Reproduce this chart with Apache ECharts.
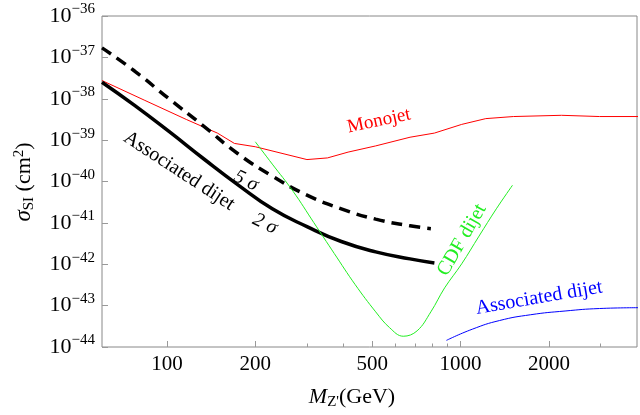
<!DOCTYPE html>
<html><head><meta charset="utf-8">
<script src="https://cdn.jsdelivr.net/npm/echarts@6/dist/echarts.min.js"></script>
<style>html,body{margin:0;padding:0;background:#fff}#c{width:640px;height:415px}</style>
</head><body><div id="c"></div>
<script>
// log10(M / GeV) and log10(sigma / cm^2)
const monoLogM = [1.779,1.925,2.066,2.172,2.230,2.301,2.477,2.547,2.617,2.711,2.828,2.911,3.004,3.086,3.180,3.344,3.473,3.608];
const monoLogS = [-37.56,-38.04,-38.50,-38.83,-39.08,-39.16,-39.47,-39.43,-39.29,-39.14,-38.93,-38.83,-38.62,-38.48,-38.43,-38.40,-38.43,-38.43];
const s5LogM = [1.779,1.890,2.007,2.125,2.242,2.359,2.477,2.594,2.711,2.828,2.899];
const s5LogS = [-36.77,-37.33,-38.00,-38.66,-39.33,-39.87,-40.33,-40.66,-40.91,-41.07,-41.14];
const s2LogM = [1.779,1.890,2.007,2.125,2.242,2.359,2.477,2.594,2.711,2.828,2.911];
const s2LogS = [-37.60,-38.16,-38.79,-39.45,-40.08,-40.66,-41.09,-41.45,-41.70,-41.87,-41.97];
const cdfLogM = [2.301,2.359,2.430,2.500,2.570,2.641,2.711,2.758,2.805,2.852,2.899,2.946,3.004,3.063,3.122,3.177];
const cdfLogS = [-39.04,-39.58,-40.24,-40.99,-41.74,-42.49,-43.15,-43.53,-43.74,-43.61,-43.15,-42.57,-41.99,-41.32,-40.66,-40.09];
const assocLogM = [2.952,3.040,3.133,3.239,3.356,3.473,3.608];
const assocLogS = [-43.84,-43.57,-43.36,-43.22,-43.13,-43.07,-43.05];
const xMajor = [100,200,500,1000,2000];
const xMinor = [300,400,600,700,800,900,3000];
const yTicks = [-44,-43,-42,-41,-40,-39,-38,-37,-36];

const zip = (a,b)=>a.map((v,i)=>[v,b[i]]);
const F = 'Liberation Serif';
const chart = echarts.init(document.getElementById('c'));
const xBase = {type:'value', min:1.779, max:3.601, gridIndex:0, splitLine:{show:false}, axisLine:{show:false}};
chart.setOption({
  animation:false,
  grid:{left:102,right:3,top:16,bottom:68,show:true,borderColor:'#888',borderWidth:1},
  xAxis:[
    Object.assign({},xBase,{position:'bottom',
      axisTick:{inside:true,length:6,lineStyle:{color:'#999'},customValues:xMajor.map(Math.log10)},
      axisLabel:{customValues:xMajor.map(Math.log10),formatter:v=>String(Math.round(Math.pow(10,v))),
        fontFamily:F,fontSize:21,color:'#000',margin:7}}),
    Object.assign({},xBase,{position:'bottom',
      axisTick:{inside:true,length:3.5,lineStyle:{color:'#999'},customValues:xMinor.map(Math.log10)},
      axisLabel:{show:false}})
  ],
  yAxis:{type:'value',min:-44,max:-36,splitLine:{show:false},axisLine:{show:false},
    axisTick:{inside:true,length:6,lineStyle:{color:'#999'},customValues:yTicks},
    axisLabel:{customValues:yTicks,formatter:v=>'10{s|'+String(v).replace('-','\u2212')+'}',
      fontFamily:F,fontSize:22,color:'#000',margin:7,
      rich:{s:{fontFamily:F,fontSize:15,color:'#000',verticalAlign:'top',padding:[0,0,13,0]}}}},
  series:[
    {type:'line',data:zip(monoLogM,monoLogS),symbol:'none',lineStyle:{color:'#ff0000',width:1}},
    {type:'line',data:zip(s5LogM,s5LogS),symbol:'none',smooth:true,lineStyle:{color:'#000',width:3.5,type:[11,7]}},
    {type:'line',data:zip(s2LogM,s2LogS),symbol:'none',smooth:true,lineStyle:{color:'#000',width:3.5}},
    {type:'line',data:zip(cdfLogM,cdfLogS),symbol:'none',smooth:0.4,lineStyle:{color:'#22ee22',width:1}},
    {type:'line',data:zip(assocLogM,assocLogS),symbol:'none',smooth:true,lineStyle:{color:'#0000ff',width:1}}
  ],
  graphic:[
    {type:'text',x:379,y:121,rotation:0.21,style:{text:'Monojet',font:'19px "Liberation Serif"',fill:'#ff0000',align:'center',verticalAlign:'middle'}},
    {type:'text',x:179,y:171,rotation:-0.58,style:{text:'Associated dijet',font:'20px "Liberation Serif"',fill:'#000',align:'center',verticalAlign:'middle'}},
    {type:'text',x:246,y:181,rotation:-0.45,style:{text:'5 σ',font:'italic 20px "Liberation Serif"',fill:'#000',align:'center',verticalAlign:'middle'}},
    {type:'text',x:265,y:224,rotation:-0.45,style:{text:'2 σ',font:'italic 20px "Liberation Serif"',fill:'#000',align:'center',verticalAlign:'middle'}},
    {type:'text',x:462,y:240,rotation:1.05,style:{text:'CDF dijet',font:'20px "Liberation Serif"',fill:'#22ee22',align:'center',verticalAlign:'middle'}},
    {type:'text',x:539,y:298,rotation:0.17,style:{text:'Associated dijet',font:'20px "Liberation Serif"',fill:'#0000ff',align:'center',verticalAlign:'middle'}},
    {type:'text',x:24,y:182,rotation:Math.PI/2,style:{
      rich:{a:{font:'italic 23px "Liberation Serif"',fill:'#000'},b:{font:'15px "Liberation Serif"',fill:'#000',padding:[10,0,0,0]},c:{font:'22px "Liberation Serif"',fill:'#000'},d:{font:'15px "Liberation Serif"',fill:'#000',padding:[0,0,10,0]}},
      text:'{a|σ}{b|SI}{c| (cm}{d|2}{c|)}',align:'center',verticalAlign:'middle'}},
    {type:'text',x:352,y:397,style:{
      rich:{a:{font:'italic 22px "Liberation Serif"',fill:'#000'},b:{font:'15px "Liberation Serif"',fill:'#000',padding:[10,0,0,0]},c:{font:'22px "Liberation Serif"',fill:'#000'}},
      text:'{a|M}{b|Z\'}{c|(GeV)}',align:'center',verticalAlign:'middle'}}
  ]
});
</script></body></html>
